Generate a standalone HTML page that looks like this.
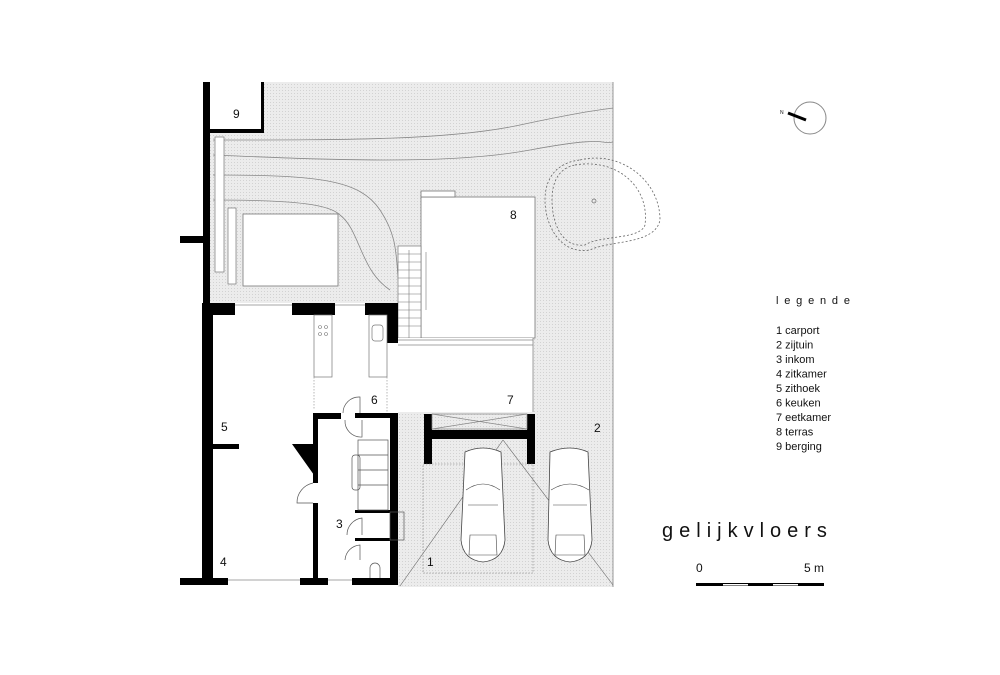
<!DOCTYPE html>
<html><head><style>
body{margin:0;background:#fff;}
svg{display:block}
text{font-family:"Liberation Sans",sans-serif;fill:#111}
</style></head><body>
<svg width="1000" height="675" viewBox="0 0 1000 675" xmlns="http://www.w3.org/2000/svg">
<defs>
<pattern id="dots" width="3" height="3" patternUnits="userSpaceOnUse">
<rect width="3" height="3" fill="#ececec"/><rect width="1" height="1" fill="#d2d2d2"/>
</pattern>
</defs>
<rect x="207" y="82" width="406" height="222" fill="url(#dots)"/>
<rect x="533" y="300" width="80" height="287" fill="url(#dots)"/>
<rect x="398" y="412" width="215" height="175" fill="url(#dots)"/>
<line x1="613" y1="82" x2="613" y2="587" stroke="#999" stroke-width="1"/>
<g fill="none" stroke="#888" stroke-width="0.8">
<path d="M213 140 C350 140 450 140 520 125 S600 110 613 108"/>
<path d="M213 155 C330 160 450 165 530 150 S600 145 613 142"/>
<path d="M213 175 C320 175 360 180 380 210 S395 260 400 295"/>
<path d="M213 200 C300 200 330 205 340 215 C360 230 360 270 390 290"/>
</g>
<g fill="none" stroke="#666" stroke-width="0.8" stroke-dasharray="2,2">
<path d="M580 160 C620 150 660 180 660 220 C655 245 610 240 590 250 C560 255 545 225 545 200 C545 175 560 162 580 160Z"/>
<path d="M575 165 C615 158 650 185 645 225 C640 240 600 235 585 245 C560 248 552 220 552 200 C552 180 560 168 575 165Z"/>
</g>
<circle cx="594" cy="201" r="2" fill="none" stroke="#666" stroke-width="0.7"/>
<rect x="215" y="137" width="9" height="135" fill="#fff" stroke="#777" stroke-width="0.7"/>
<rect x="228" y="208" width="8" height="76" fill="#fff" stroke="#777" stroke-width="0.7"/>
<rect x="243" y="214" width="95" height="72" fill="#fff" stroke="#777" stroke-width="0.8"/>
<rect x="209" y="82" width="53" height="48" fill="#fff"/>
<rect x="261" y="82" width="3" height="51" fill="#000"/>
<rect x="203" y="129" width="61" height="4" fill="#000"/>
<rect x="421" y="197" width="114" height="141" fill="#fff" stroke="#777" stroke-width="0.8"/>
<rect x="421" y="191" width="34" height="6" fill="#fff" stroke="#777" stroke-width="0.8"/>
<rect x="398" y="246" width="23" height="92" fill="#fff" stroke="#777" stroke-width="0.7"/>
<g stroke="#777" stroke-width="0.6">
<line x1="398" y1="254" x2="421" y2="254"/><line x1="398" y1="262" x2="421" y2="262"/><line x1="398" y1="270" x2="421" y2="270"/><line x1="398" y1="278" x2="421" y2="278"/><line x1="398" y1="286" x2="421" y2="286"/><line x1="398" y1="294" x2="421" y2="294"/><line x1="398" y1="302" x2="421" y2="302"/><line x1="398" y1="310" x2="421" y2="310"/><line x1="398" y1="318" x2="421" y2="318"/><line x1="398" y1="326" x2="421" y2="326"/>
<line x1="409" y1="250" x2="409" y2="338"/><line x1="426" y1="252" x2="426" y2="310"/>
</g>
<rect x="210" y="303" width="188" height="282" fill="#fff"/>
<rect x="398" y="338" width="135" height="74" fill="#fff"/>
<line x1="398" y1="340" x2="533" y2="340" stroke="#888" stroke-width="0.7"/>
<line x1="398" y1="345" x2="533" y2="345" stroke="#888" stroke-width="0.7"/>
<line x1="533" y1="338" x2="533" y2="412" stroke="#888" stroke-width="0.8"/>
<g fill="#000">
<rect x="203" y="82" width="7" height="503"/>
<rect x="180" y="236" width="23" height="7"/>
<rect x="202" y="303" width="11" height="282"/>
<rect x="202" y="303" width="33" height="12"/>
<rect x="292" y="303" width="43" height="12"/>
<rect x="365" y="303" width="33" height="12"/>
<rect x="387" y="303" width="11" height="40"/>
<rect x="180" y="578" width="48" height="7"/>
<rect x="300" y="578" width="28" height="7"/>
<rect x="352" y="578" width="46" height="7"/>
<rect x="213" y="444" width="26" height="5"/>
<rect x="313" y="413" width="5" height="70"/>
<rect x="313" y="503" width="5" height="80"/>
<rect x="313" y="413" width="28" height="6"/>
<rect x="355" y="413" width="43" height="5"/>
<rect x="390" y="413" width="8" height="165"/>
<polygon points="292,444 318,444 318,475 314,475"/>
<rect x="424" y="414" width="8" height="50"/>
<rect x="527" y="414" width="8" height="50"/>
<rect x="424" y="430" width="111" height="9"/>
<rect x="355" y="510" width="35" height="3"/>
<rect x="355" y="538" width="35" height="3"/>
</g>
<g stroke="#888" stroke-width="0.7" fill="none">
<line x1="235" y1="305" x2="292" y2="305"/><line x1="335" y1="305" x2="365" y2="305"/>
<line x1="228" y1="580" x2="300" y2="580"/><line x1="328" y1="580" x2="352" y2="580"/>
<rect x="432" y="414" width="95" height="15"/>
<line x1="432" y1="414" x2="527" y2="429"/><line x1="432" y1="429" x2="527" y2="414"/>
</g>
<g stroke="#777" stroke-width="0.7" fill="#fff">
<rect x="314" y="315" width="18" height="62"/>
<rect x="369" y="315" width="18" height="62"/>
<rect x="372" y="325" width="11" height="16" rx="3"/>
</g>
<g fill="none" stroke="#777" stroke-width="0.6">
<circle cx="320" cy="327" r="1.5"/><circle cx="326" cy="327" r="1.5"/><circle cx="320" cy="334" r="1.5"/><circle cx="326" cy="334" r="1.5"/>
</g>
<g stroke="#888" stroke-width="0.6" stroke-dasharray="1.5,1.5">
<line x1="314" y1="377" x2="314" y2="410"/><line x1="387" y1="377" x2="387" y2="413"/>
</g>
<g fill="none" stroke="#555" stroke-width="0.7">
<path d="M343 413 A16 16 0 0 1 360 397 L360 413"/>
<path d="M345 420 A16 16 0 0 0 362 437 L362 420"/>
<path d="M313 483 A20 20 0 0 0 297 503 L313 503"/>
<path d="M347 535 A17 17 0 0 1 362 518 L362 535"/>
<path d="M345 560 A16 16 0 0 1 360 545 L360 560"/>
<rect x="358" y="440" width="30" height="70"/>
<line x1="358" y1="455" x2="388" y2="455"/><line x1="358" y1="470" x2="388" y2="470"/><line x1="358" y1="485" x2="388" y2="485"/>
<rect x="352" y="455" width="8" height="35" rx="3"/>
<rect x="390" y="512" width="14" height="28"/>
<path d="M370 578 L370 568 A5 5 0 0 1 380 568 L380 578"/>
</g>
<rect x="423" y="464" width="110" height="109" fill="none" stroke="#777" stroke-width="0.6" stroke-dasharray="1.5,1.5"/>
<g stroke="#666" stroke-width="0.6" fill="none">
<line x1="400" y1="586" x2="503" y2="440"/>
<line x1="503" y1="440" x2="613" y2="585"/>
</g>
<g fill="#fff" stroke="#444" stroke-width="0.8">
<path d="M465 452 Q483 444 501 452 L505 540 Q503 560 483 562 Q463 560 461 540Z"/>
<path d="M550 452 Q570 444 588 452 L592 540 Q590 560 570 562 Q550 560 548 540Z"/>
</g>
<g fill="none" stroke="#444" stroke-width="0.6">
<path d="M466 490 Q483 478 500 490"/><path d="M468 505 L498 505"/><path d="M470 535 L496 535 L497 555 L469 555Z"/>
<path d="M551 490 Q570 478 589 490"/><path d="M553 505 L587 505"/><path d="M556 535 L584 535 L585 555 L555 555Z"/>
</g>
<g font-size="12">
<text x="233" y="118">9</text>
<text x="510" y="219">8</text>
<text x="371" y="404">6</text>
<text x="507" y="404">7</text>
<text x="221" y="431">5</text>
<text x="336" y="528">3</text>
<text x="220" y="566">4</text>
<text x="427" y="566">1</text>
<text x="594" y="432">2</text>
</g>
<circle cx="810" cy="118" r="16" fill="none" stroke="#888" stroke-width="1"/>
<line x1="788" y1="113" x2="806" y2="120" stroke="#000" stroke-width="3"/>
<text x="780" y="114" font-size="5">N</text>
<text x="776" y="304" font-size="11" letter-spacing="5.8">legende</text>
<g font-size="11">
<text x="776" y="334">1 carport</text>
<text x="776" y="348.5">2 zijtuin</text>
<text x="776" y="363">3 inkom</text>
<text x="776" y="377.5">4 zitkamer</text>
<text x="776" y="392">5 zithoek</text>
<text x="776" y="406.5">6 keuken</text>
<text x="776" y="421">7 eetkamer</text>
<text x="776" y="435.5">8 terras</text>
<text x="776" y="450">9 berging</text>
</g>
<text x="662" y="537" font-size="20" letter-spacing="6">gelijkvloers</text>
<text x="696" y="572" font-size="12">0</text>
<text x="804" y="572" font-size="12">5 m</text>
<rect x="696" y="583" width="128" height="3" fill="#000"/>
<rect x="723" y="584" width="25" height="1.5" fill="#fff"/>
<rect x="773" y="584" width="25" height="1.5" fill="#fff"/>
</svg>
</body></html>
